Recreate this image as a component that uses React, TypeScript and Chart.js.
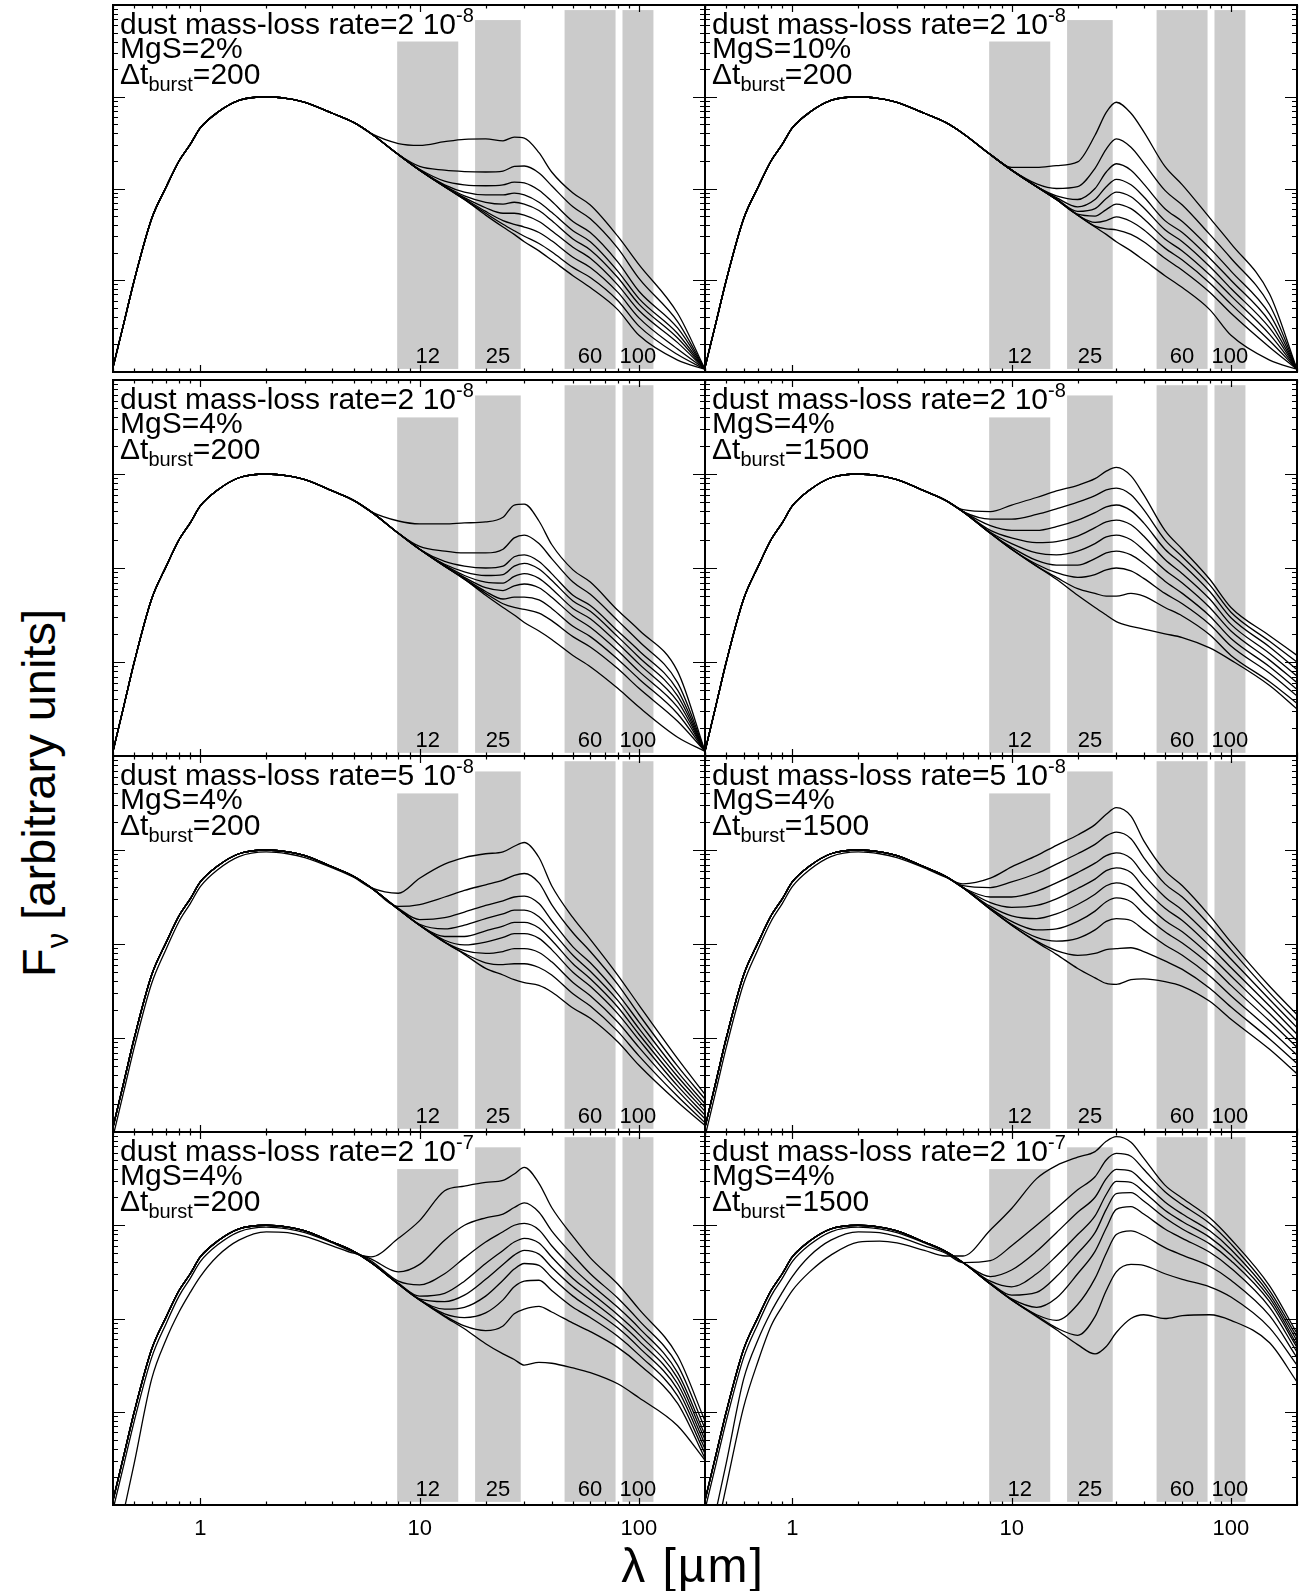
import React, { useEffect, useRef } from "react";
import { Chart, registerables } from "chart.js";

Chart.register(...registerables);

const FONT = '"Liberation Sans", Arial, Helvetica, sans-serif';

// ---------------- DATA ----------------
// wavelength grids (micron)
const opticalWavelengths = [0.4, 0.45, 0.5, 0.6, 0.7, 0.8, 0.9, 1.0, 1.2, 1.5, 2.0, 2.5, 3.0, 4.0, 5.0];
const infraredWavelengths = [6, 8, 10, 13, 16, 20, 24, 27, 30, 35, 40, 50, 60, 80, 100, 150, 200];

// log10 F_nu (arbitrary units) on the optical grid
const opticalStar = [-2.95, -2.45, -2.0, -1.33, -0.98, -0.7, -0.52, -0.34, -0.17, -0.04, 0.0, -0.02, -0.06, -0.18, -0.28];
const opticalDim1 = [-3.05, -2.55, -2.1, -1.42, -1.05, -0.76, -0.57, -0.39, -0.21, -0.07, -0.02, -0.04, -0.08, -0.19, -0.29];
const opticalDim2 = [-3.6, -3.05, -2.55, -1.65, -1.22, -0.93, -0.72, -0.55, -0.33, -0.16, -0.07, -0.08, -0.12, -0.22, -0.3];
const opticalDim3 = [-3.8, -3.3, -2.8, -1.95, -1.45, -1.08, -0.87, -0.7, -0.5, -0.32, -0.18, -0.17, -0.19, -0.27, -0.33];

// log10 F_nu on the infrared grid, one row per model curve (top to bottom)
const irPanel1 = [
  [-0.4, -0.51, -0.53, -0.49, -0.465, -0.46, -0.48, -0.44, -0.45, -0.61, -0.82, -1.05, -1.18, -1.52, -1.83, -2.36, -2.97],
  [-0.4, -0.63, -0.76, -0.8, -0.815, -0.82, -0.81, -0.76, -0.755, -0.83, -0.97, -1.2, -1.33, -1.65, -1.98, -2.45, -2.97],
  [-0.4, -0.63, -0.79, -0.92, -0.96, -0.97, -0.96, -0.93, -0.94, -1.02, -1.14, -1.36, -1.48, -1.8, -2.12, -2.52, -2.97],
  [-0.4, -0.63, -0.8, -0.96, -1.04, -1.07, -1.07, -1.05, -1.07, -1.15, -1.26, -1.46, -1.58, -1.9, -2.2, -2.58, -2.97],
  [-0.4, -0.63, -0.8, -0.97, -1.08, -1.15, -1.17, -1.15, -1.17, -1.24, -1.35, -1.55, -1.67, -1.97, -2.26, -2.63, -2.97],
  [-0.4, -0.63, -0.8, -0.98, -1.1, -1.21, -1.27, -1.27, -1.29, -1.36, -1.46, -1.64, -1.76, -2.05, -2.33, -2.68, -2.97],
  [-0.4, -0.63, -0.8, -0.98, -1.11, -1.25, -1.35, -1.39, -1.42, -1.48, -1.57, -1.75, -1.86, -2.13, -2.41, -2.75, -2.97],
  [-0.4, -0.63, -0.8, -0.98, -1.12, -1.27, -1.39, -1.46, -1.52, -1.6, -1.69, -1.86, -1.97, -2.22, -2.5, -2.81, -2.97],
  [-0.4, -0.63, -0.8, -0.98, -1.12, -1.29, -1.42, -1.5, -1.58, -1.68, -1.78, -1.95, -2.08, -2.32, -2.6, -2.87, -2.97],
];
const irPanel2 = [
  [-0.4, -0.63, -0.77, -0.77, -0.75, -0.71, -0.42, -0.17, -0.06, -0.18, -0.38, -0.76, -0.96, -1.32, -1.6, -2.15, -2.97],
  [-0.4, -0.63, -0.8, -0.95, -1.0, -0.98, -0.78, -0.57, -0.46, -0.55, -0.72, -1.02, -1.18, -1.5, -1.76, -2.27, -2.97],
  [-0.4, -0.63, -0.8, -0.98, -1.08, -1.12, -1.0, -0.82, -0.73, -0.8, -0.95, -1.22, -1.36, -1.65, -1.9, -2.37, -2.97],
  [-0.4, -0.63, -0.8, -0.98, -1.1, -1.2, -1.12, -0.98, -0.9, -0.96, -1.09, -1.35, -1.48, -1.76, -2.0, -2.45, -2.97],
  [-0.4, -0.63, -0.8, -0.98, -1.11, -1.25, -1.22, -1.11, -1.04, -1.09, -1.21, -1.45, -1.58, -1.85, -2.09, -2.52, -2.97],
  [-0.4, -0.63, -0.8, -0.98, -1.12, -1.28, -1.3, -1.23, -1.17, -1.22, -1.33, -1.55, -1.68, -1.94, -2.17, -2.59, -2.97],
  [-0.4, -0.63, -0.8, -0.98, -1.12, -1.29, -1.37, -1.35, -1.31, -1.36, -1.45, -1.65, -1.78, -2.03, -2.26, -2.66, -2.97],
  [-0.4, -0.63, -0.8, -0.98, -1.12, -1.29, -1.41, -1.44, -1.45, -1.5, -1.58, -1.76, -1.89, -2.13, -2.36, -2.73, -2.97],
  [-0.4, -0.63, -0.8, -0.98, -1.12, -1.29, -1.42, -1.5, -1.58, -1.68, -1.78, -1.95, -2.08, -2.32, -2.6, -2.87, -2.97],
];
const irPanel3 = [
  [-0.4, -0.5, -0.53, -0.53, -0.52, -0.51, -0.46, -0.33, -0.32, -0.5, -0.75, -1.02, -1.15, -1.45, -1.66, -2.1, -2.95],
  [-0.4, -0.63, -0.77, -0.82, -0.84, -0.84, -0.8, -0.68, -0.65, -0.74, -0.9, -1.15, -1.28, -1.56, -1.78, -2.22, -2.95],
  [-0.4, -0.63, -0.8, -0.93, -0.98, -1.0, -0.98, -0.88, -0.86, -0.93, -1.06, -1.29, -1.4, -1.67, -1.88, -2.3, -2.95],
  [-0.4, -0.63, -0.8, -0.96, -1.04, -1.08, -1.07, -0.98, -0.95, -1.01, -1.13, -1.35, -1.46, -1.73, -1.95, -2.36, -2.95],
  [-0.4, -0.63, -0.8, -0.97, -1.08, -1.15, -1.16, -1.09, -1.06, -1.11, -1.22, -1.43, -1.54, -1.8, -2.02, -2.42, -2.95],
  [-0.4, -0.63, -0.8, -0.98, -1.1, -1.21, -1.24, -1.19, -1.17, -1.21, -1.31, -1.51, -1.63, -1.88, -2.1, -2.48, -2.95],
  [-0.4, -0.63, -0.8, -0.98, -1.11, -1.25, -1.33, -1.31, -1.31, -1.34, -1.43, -1.62, -1.73, -1.97, -2.18, -2.55, -2.95],
  [-0.4, -0.63, -0.8, -0.98, -1.12, -1.27, -1.38, -1.42, -1.44, -1.48, -1.56, -1.73, -1.84, -2.07, -2.28, -2.63, -2.95],
  [-0.4, -0.63, -0.8, -0.98, -1.12, -1.29, -1.42, -1.5, -1.58, -1.67, -1.76, -1.93, -2.05, -2.28, -2.48, -2.8, -2.95],
];
const irPanel4 = [
  [-0.38, -0.4, -0.33, -0.25, -0.18, -0.12, -0.05, 0.03, 0.07, -0.02, -0.22, -0.6, -0.8, -1.12, -1.42, -1.72, -1.93],
  [-0.4, -0.48, -0.48, -0.43, -0.37, -0.3, -0.23, -0.17, -0.15, -0.22, -0.38, -0.7, -0.88, -1.18, -1.47, -1.78, -2.0],
  [-0.4, -0.55, -0.6, -0.6, -0.56, -0.49, -0.41, -0.35, -0.33, -0.39, -0.52, -0.8, -0.96, -1.25, -1.53, -1.84, -2.08],
  [-0.4, -0.6, -0.68, -0.73, -0.72, -0.66, -0.57, -0.51, -0.49, -0.54, -0.66, -0.91, -1.06, -1.33, -1.6, -1.91, -2.15],
  [-0.4, -0.62, -0.74, -0.84, -0.86, -0.82, -0.74, -0.67, -0.65, -0.7, -0.81, -1.02, -1.16, -1.42, -1.67, -1.98, -2.22],
  [-0.4, -0.63, -0.78, -0.92, -0.97, -0.97, -0.9, -0.84, -0.82, -0.86, -0.95, -1.14, -1.27, -1.51, -1.75, -2.05, -2.29],
  [-0.4, -0.63, -0.8, -0.96, -1.05, -1.1, -1.07, -1.02, -1.0, -1.03, -1.11, -1.27, -1.38, -1.6, -1.83, -2.12, -2.36],
  [-0.4, -0.63, -0.8, -0.98, -1.1, -1.22, -1.27, -1.3, -1.3, -1.27, -1.3, -1.42, -1.51, -1.71, -1.93, -2.21, -2.44],
  [-0.4, -0.63, -0.8, -0.98, -1.12, -1.29, -1.42, -1.5, -1.57, -1.62, -1.65, -1.7, -1.74, -1.85, -1.98, -2.25, -2.5],
];
const irPanel5 = [
  [-0.4, -0.46, -0.3, -0.15, -0.08, -0.04, -0.02, 0.04, 0.08, -0.08, -0.38, -0.72, -0.95, -1.33, -1.65, -2.22, -2.6],
  [-0.4, -0.6, -0.58, -0.5, -0.43, -0.37, -0.32, -0.27, -0.25, -0.35, -0.58, -0.88, -1.08, -1.43, -1.75, -2.3, -2.65],
  [-0.4, -0.62, -0.74, -0.72, -0.66, -0.59, -0.54, -0.5, -0.49, -0.57, -0.75, -1.03, -1.2, -1.53, -1.83, -2.36, -2.7],
  [-0.4, -0.63, -0.79, -0.84, -0.8, -0.73, -0.68, -0.64, -0.64, -0.71, -0.86, -1.12, -1.29, -1.6, -1.9, -2.41, -2.74],
  [-0.4, -0.63, -0.8, -0.92, -0.92, -0.86, -0.81, -0.77, -0.77, -0.83, -0.96, -1.21, -1.37, -1.67, -1.96, -2.46, -2.78],
  [-0.4, -0.63, -0.8, -0.96, -1.01, -0.98, -0.93, -0.89, -0.89, -0.94, -1.06, -1.3, -1.45, -1.74, -2.02, -2.51, -2.82],
  [-0.4, -0.63, -0.8, -0.98, -1.07, -1.1, -1.08, -1.05, -1.05, -1.09, -1.19, -1.41, -1.55, -1.83, -2.1, -2.56, -2.86],
  [-0.4, -0.63, -0.8, -0.98, -1.1, -1.2, -1.22, -1.21, -1.21, -1.25, -1.33, -1.53, -1.66, -1.93, -2.19, -2.62, -2.9],
  [-0.4, -0.63, -0.8, -0.98, -1.11, -1.26, -1.33, -1.38, -1.41, -1.44, -1.51, -1.68, -1.79, -2.04, -2.29, -2.68, -2.93],
];
const irPanel6 = [
  [-0.36, -0.3, -0.18, -0.06, 0.05, 0.16, 0.27, 0.38, 0.45, 0.36, 0.1, -0.22, -0.38, -0.7, -0.98, -1.45, -1.75],
  [-0.38, -0.4, -0.34, -0.25, -0.15, -0.04, 0.06, 0.15, 0.19, 0.12, -0.08, -0.36, -0.5, -0.8, -1.06, -1.52, -1.82],
  [-0.4, -0.5, -0.5, -0.44, -0.35, -0.24, -0.14, -0.06, -0.03, -0.09, -0.26, -0.5, -0.64, -0.92, -1.16, -1.59, -1.89],
  [-0.4, -0.56, -0.61, -0.59, -0.52, -0.41, -0.31, -0.22, -0.19, -0.24, -0.4, -0.62, -0.75, -1.02, -1.25, -1.66, -1.96],
  [-0.4, -0.6, -0.7, -0.73, -0.68, -0.58, -0.47, -0.38, -0.35, -0.4, -0.54, -0.75, -0.87, -1.12, -1.34, -1.74, -2.03],
  [-0.4, -0.62, -0.76, -0.85, -0.84, -0.76, -0.65, -0.55, -0.51, -0.55, -0.68, -0.87, -0.99, -1.22, -1.44, -1.82, -2.1],
  [-0.4, -0.63, -0.79, -0.93, -0.97, -0.94, -0.85, -0.76, -0.73, -0.75, -0.85, -1.01, -1.12, -1.34, -1.55, -1.91, -2.18],
  [-0.4, -0.63, -0.8, -0.97, -1.07, -1.12, -1.1, -1.06, -1.05, -1.04, -1.08, -1.18, -1.27, -1.47, -1.67, -2.01, -2.27],
  [-0.4, -0.63, -0.8, -0.98, -1.11, -1.26, -1.36, -1.42, -1.43, -1.38, -1.37, -1.4, -1.45, -1.61, -1.8, -2.12, -2.38],
];
const irPanel7 = [
  [-0.34, -0.14, 0.05, 0.37, 0.42, 0.46, 0.48, 0.55, 0.62, 0.45, 0.19, -0.12, -0.35, -0.63, -0.9, -1.4, -2.1],
  [-0.36, -0.5, -0.42, -0.16, 0.0, 0.08, 0.12, 0.19, 0.24, 0.14, -0.06, -0.32, -0.52, -0.78, -1.02, -1.5, -2.18],
  [-0.38, -0.6, -0.64, -0.52, -0.35, -0.18, -0.07, 0.0, 0.02, -0.05, -0.22, -0.46, -0.63, -0.88, -1.1, -1.58, -2.25],
  [-0.4, -0.62, -0.76, -0.73, -0.6, -0.41, -0.27, -0.18, -0.14, -0.19, -0.34, -0.57, -0.72, -0.96, -1.17, -1.64, -2.3],
  [-0.4, -0.63, -0.79, -0.82, -0.75, -0.58, -0.42, -0.32, -0.27, -0.31, -0.45, -0.66, -0.8, -1.03, -1.24, -1.7, -2.35],
  [-0.4, -0.63, -0.8, -0.9, -0.88, -0.76, -0.59, -0.47, -0.41, -0.43, -0.56, -0.76, -0.89, -1.1, -1.31, -1.76, -2.4],
  [-0.4, -0.63, -0.8, -0.95, -0.99, -0.94, -0.8, -0.66, -0.6, -0.59, -0.7, -0.88, -0.99, -1.19, -1.39, -1.83, -2.45],
  [-0.4, -0.63, -0.8, -0.97, -1.08, -1.13, -1.08, -0.95, -0.9, -0.87, -0.93, -1.05, -1.14, -1.31, -1.49, -1.91, -2.5],
  [-0.4, -0.63, -0.8, -0.98, -1.11, -1.27, -1.38, -1.44, -1.5, -1.47, -1.48, -1.53, -1.58, -1.7, -1.85, -2.15, -2.52],
];
const irPanel8 = [
  [-0.33, -0.05, 0.18, 0.5, 0.64, 0.73, 0.79, 0.9, 0.95, 0.89, 0.72, 0.43, 0.29, 0.08, -0.15, -0.65, -1.16],
  [-0.4, -0.38, -0.22, 0.0, 0.18, 0.38, 0.52, 0.7, 0.77, 0.74, 0.6, 0.36, 0.22, 0.02, -0.2, -0.7, -1.2],
  [-0.4, -0.55, -0.48, -0.28, -0.08, 0.14, 0.3, 0.5, 0.6, 0.58, 0.46, 0.25, 0.12, -0.06, -0.26, -0.74, -1.24],
  [-0.4, -0.6, -0.66, -0.52, -0.33, -0.1, 0.1, 0.33, 0.47, 0.46, 0.36, 0.16, 0.04, -0.13, -0.32, -0.78, -1.28],
  [-0.4, -0.62, -0.75, -0.72, -0.55, -0.3, -0.08, 0.17, 0.34, 0.35, 0.26, 0.08, -0.04, -0.2, -0.38, -0.82, -1.31],
  [-0.4, -0.63, -0.79, -0.88, -0.78, -0.52, -0.28, -0.03, 0.17, 0.2, 0.12, -0.04, -0.14, -0.29, -0.46, -0.88, -1.36],
  [-0.4, -0.63, -0.8, -0.96, -1.02, -0.85, -0.57, -0.3, -0.1, -0.06, -0.11, -0.24, -0.32, -0.44, -0.59, -0.97, -1.42],
  [-0.4, -0.63, -0.8, -0.97, -1.1, -1.18, -0.98, -0.7, -0.5, -0.42, -0.43, -0.52, -0.58, -0.66, -0.77, -1.1, -1.5],
  [-0.4, -0.63, -0.8, -0.98, -1.12, -1.28, -1.38, -1.3, -1.15, -1.0, -0.96, -1.0, -0.97, -0.96, -1.02, -1.26, -1.68],
];

// optical part used by each curve of each panel
const S = opticalStar;
const opticalPanel1 = [S, S, S, S, S, S, S, S, S];
const opticalPanel5 = [opticalDim1, S, S, S, S, S, S, S, S];
const opticalPanel7 = [opticalDim2, opticalDim1, S, S, S, S, S, S, S];
const opticalPanel8 = [opticalDim3, opticalDim2, opticalDim1, S, S, S, S, S, S];

// IRAS filter bands (micron) and their relative heights (flux units of the panel axis)
const bandNames = ["12", "25", "60", "100"];
const bandLow = [7.9, 17.9, 45.8, 84.1];
const bandHigh = [15.0, 28.9, 78.2, 116.4];
const bandTop = [4.0, 6.85, 8.8, 8.8];
const bandBottom = 1.08e-3;

// axis ranges and tick labels
const xMin = 0.4;
const xMax = 200;
const yMin = 1e-3;
const yMax = 10;
const xLabelTicks = [1, 10, 100];
const xDecades = [0.1, 1, 10, 100];
const yDecades = [1e-3, 1e-2, 1e-1, 1];
const tickMultipliers = [1, 2, 3, 4, 5, 6, 7, 8, 9];

// panel texts
const panelRate = ["2", "2", "2", "2", "5", "5", "2", "2"];
const panelExp = ["-8", "-8", "-8", "-8", "-8", "-8", "-7", "-7"];
const panelMgS = ["2%", "10%", "4%", "4%", "4%", "4%", "4%", "4%"];
const panelDt = ["200", "200", "200", "1500", "200", "1500", "200", "1500"];

const panelIR = [irPanel1, irPanel2, irPanel3, irPanel4, irPanel5, irPanel6, irPanel7, irPanel8];
const panelOptical = [opticalPanel1, opticalPanel1, opticalPanel1, opticalPanel1, opticalPanel5, opticalPanel5, opticalPanel7, opticalPanel8];

// ---------------- LAYOUT ----------------
const COLS = [
  [113, 705],
  [705, 1297],
];
const ROWS = [
  [5, 372],
  [380, 756],
  [756, 1132],
  [1132, 1505],
];
const M = 8;
const X_AXIS_H = 40;

const decorPlugin = {
  id: "sedDecor",
  beforeDatasetsDraw(chart: any) {
    const { ctx, chartArea: a, scales } = chart;
    const x = scales.x;
    const y = scales.y;
    ctx.save();
    ctx.fillStyle = "#cbcbcb";
    for (let i = 0; i < bandLow.length; i++) {
      const x0 = x.getPixelForValue(bandLow[i]);
      const x1 = x.getPixelForValue(bandHigh[i]);
      const y0 = y.getPixelForValue(bandTop[i]);
      const y1 = y.getPixelForValue(bandBottom);
      ctx.fillRect(x0, y0, x1 - x0, y1 - y0);
    }
    ctx.fillStyle = "#000";
    ctx.font = `22px ${FONT}`;
    ctx.textAlign = "center";
    ctx.textBaseline = "alphabetic";
    for (let i = 0; i < bandLow.length; i++) {
      const cx = x.getPixelForValue(Math.sqrt(bandLow[i] * bandHigh[i]));
      ctx.fillText(bandNames[i], cx, a.bottom - 9);
    }
    ctx.restore();
  },
  afterDatasetsDraw(chart: any) {
    const { ctx, chartArea: a, scales } = chart;
    const x = scales.x;
    const y = scales.y;
    ctx.save();
    ctx.strokeStyle = "#000";
    ctx.lineWidth = 1.2;
    ctx.beginPath();
    for (const d of xDecades) {
      for (const m of tickMultipliers) {
        const v = d * m;
        if (v < xMin * 0.999 || v > xMax * 1.001) continue;
        const px = Math.round(x.getPixelForValue(v)) + 0.5;
        const len = m === 1 ? 7 : 3.5;
        ctx.moveTo(px, a.bottom);
        ctx.lineTo(px, a.bottom - len);
        ctx.moveTo(px, a.top);
        ctx.lineTo(px, a.top + len);
      }
    }
    const yVals: number[] = [];
    for (const d of yDecades) for (const m of tickMultipliers) yVals.push(d * m);
    yVals.push(yMax);
    for (const v of yVals) {
      const lg = Math.log10(v);
      const major = Math.abs(lg - Math.round(lg)) < 1e-6;
      const py = Math.round(y.getPixelForValue(v)) + 0.5;
      const len = major ? 12 : 5;
      ctx.moveTo(a.left, py);
      ctx.lineTo(a.left + len, py);
      ctx.moveTo(a.right, py);
      ctx.lineTo(a.right - len, py);
    }
    ctx.stroke();
    ctx.lineWidth = 2;
    ctx.strokeRect(a.left, a.top, a.right - a.left, a.bottom - a.top);
    ctx.restore();
  },
};

function Panel({ idx }: { idx: number }) {
  const ref = useRef<HTMLCanvasElement>(null);
  const col = idx % 2;
  const row = Math.floor(idx / 2);
  const isBottom = row === ROWS.length - 1;
  const [x0, x1] = COLS[col];
  const [y0, y1] = ROWS[row];
  const width = x1 - x0 + 2 * M;
  const height = y1 - y0 + M + (isBottom ? X_AXIS_H : M);

  useEffect(() => {
    if (!ref.current) return;
    const ir = panelIR[idx];
    const opt = panelOptical[idx];
    const wl = [...opticalWavelengths, ...infraredWavelengths];
    const datasets = ir.map((irRow, i) => {
      const logs = [...opt[i], ...irRow];
      return {
        label: `model ${i + 1}`,
        data: wl.map((w, j) => ({ x: w, y: Math.pow(10, logs[j]) })),
        borderColor: "#000",
        borderWidth: 1.3,
        pointRadius: 0,
        fill: false,
        cubicInterpolationMode: "monotone" as const,
      };
    });
    const xScale: any = {
      type: "logarithmic",
      min: xMin,
      max: xMax,
      display: isBottom,
      position: "bottom",
      grid: { display: false, drawTicks: false },
      border: { display: false },
      ticks: {
        color: "#000",
        font: { family: FONT, size: 22 },
        padding: 11,
        autoSkip: false,
        maxRotation: 0,
        minRotation: 0,
        callback: (v: any) => String(v),
      },
      afterBuildTicks: (s: any) => {
        s.ticks = xLabelTicks.map((v) => ({ value: v }));
      },
    };
    if (isBottom) {
      xScale.afterFit = (s: any) => {
        s.height = X_AXIS_H;
      };
    }
    const chart = new Chart(ref.current, {
      type: "line",
      data: { datasets },
      options: {
        responsive: false,
        animation: false,
        devicePixelRatio: 1,
        events: [],
        layout: { padding: { left: M, right: M, top: M, bottom: isBottom ? 0 : M } },
        plugins: { legend: { display: false }, tooltip: { enabled: false }, title: { display: false } },
        scales: {
          x: xScale,
          y: { type: "logarithmic", min: yMin, max: yMax, display: false },
        },
      } as any,
      plugins: [decorPlugin],
    });
    return () => chart.destroy();
  }, [idx]);

  return (
    <canvas
      ref={ref}
      width={width}
      height={height}
      style={{ position: "absolute", left: x0 - M, top: y0 - M, width, height, display: "block" }}
    />
  );
}

function Annotation({ idx }: { idx: number }) {
  const col = idx % 2;
  const row = Math.floor(idx / 2);
  const left = COLS[col][0] + 7;
  const top = ROWS[row][0];
  const base: React.CSSProperties = {
    position: "absolute",
    left,
    whiteSpace: "nowrap",
    fontFamily: FONT,
    fontSize: 30,
    lineHeight: "30px",
    color: "#000",
  };
  const asc = 25.3;
  return (
    <>
      <div style={{ ...base, top: top + 29 - asc }}>
        dust mass-loss rate={panelRate[idx]} 10
        <span style={{ fontSize: 20, position: "relative", top: -12, lineHeight: 0 }}>{panelExp[idx]}</span>
      </div>
      <div style={{ ...base, top: top + 53 - asc }}>MgS={panelMgS[idx]}</div>
      <div style={{ ...base, top: top + 79 - asc }}>
        Δt<span style={{ fontSize: 20, position: "relative", top: 7, lineHeight: 0 }}>burst</span>={panelDt[idx]}
      </div>
    </>
  );
}

export default function App() {
  const idxs = [0, 1, 2, 3, 4, 5, 6, 7];
  return (
    <div
      style={{
        position: "absolute",
        left: 0,
        top: 0,
        width: 1309,
        height: 1591,
        background: "#fff",
        overflow: "hidden",
      }}
    >
      {idxs.map((i) => (
        <Panel key={`p${i}`} idx={i} />
      ))}
      {idxs.map((i) => (
        <Annotation key={`a${i}`} idx={i} />
      ))}
      <div
        style={{
          position: "absolute",
          left: 38,
          top: 793,
          transform: "translate(-50%, -50%) rotate(-90deg)",
          whiteSpace: "nowrap",
          fontFamily: FONT,
          fontSize: 47,
          lineHeight: "47px",
          color: "#000",
        }}
      >
        F<span style={{ fontSize: 31, position: "relative", top: 13, lineHeight: 0 }}>ν</span> [arbitrary units]
      </div>
      <div
        style={{
          position: "absolute",
          left: 693,
          top: 1566,
          transform: "translate(-50%, -50%)",
          whiteSpace: "nowrap",
          fontFamily: FONT,
          fontSize: 48,
          lineHeight: "48px",
          letterSpacing: "2px",
          color: "#000",
        }}
      >
        λ [µm]
      </div>
    </div>
  );
}
